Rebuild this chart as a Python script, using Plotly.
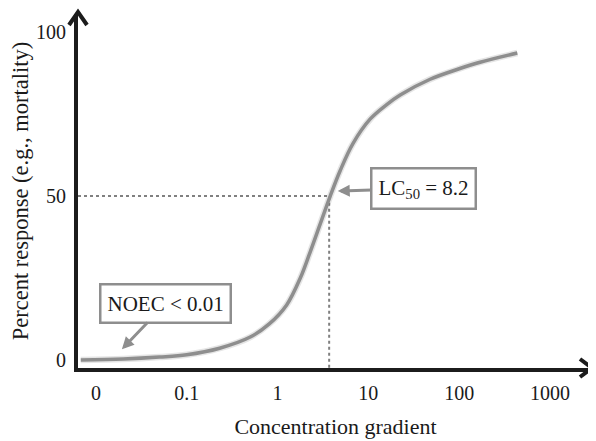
import math
import plotly.graph_objects as go

# dose-response curve (x = concentration, y = % response)
conc = [0.0068, 0.020, 0.050, 0.10, 0.23, 0.50, 0.81, 1.26, 1.78, 2.29, 2.95,
        3.80, 4.90, 6.76, 10.5, 15.8, 22.4, 47.9, 100, 170, 437]
response = [0.0, 0.3, 0.9, 1.6, 3.6, 7.0, 11.0, 16.8, 25.0, 33.0, 41.5,
            50.0, 57.8, 66.0, 73.5, 77.8, 80.8, 85.6, 88.8, 90.8, 93.6]

x_tickvals = [0.01, 0.1, 1, 10, 100, 1000]
x_ticktext = ["0", "0.1", "1", "10", "100", "1000"]
y_tickvals = [0, 50, 100]

# where the LC50 guide lines are drawn in the schematic, and the labels
lc50_mark_x = 3.7
lc50_mark_y = 50
lc50_label = "LC<sub>50</sub> = 8.2"
noec_label = "NOEC < 0.01"
noec_tip = (0.0193, 3.3)
lc50_tip = (4.6, 51.5)

X_RANGE = [-2.198, 3.474]   # log10 units
Y_RANGE = [-2.44, 105.5]

# the page body has an 8px margin, so the figure is drawn 8px in from the corner
PAGE = 8
W, H = 596 - PAGE, 441 - PAGE
L, R, T, B = 78 - PAGE, 3, 14 - PAGE, H - (368 - PAGE)

SERIF = "Liberation Serif, Times New Roman, serif"
GREY = "#8e8e8e"
AXIS = "#1c1c1c"
INK = "#1a1a1a"


def px_to_paper(px, py):
    # px, py in window pixels
    fx, fy = px - PAGE, py - PAGE
    return (fx - L) / (W - L - R), (H - B - fy) / (H - B - T)


def chevron(points):
    pts = [px_to_paper(*p) for p in points]
    return "M {} {} L {} {} L {} {}".format(*[c for p in pts for c in p])


fig = go.Figure()

# dotted guide lines to LC50
fig.add_trace(go.Scatter(
    x=[10 ** X_RANGE[0], lc50_mark_x, lc50_mark_x],
    y=[lc50_mark_y, lc50_mark_y, Y_RANGE[0]],
    mode="lines",
    line=dict(color="#808080", width=2, dash="dot"),
    hoverinfo="skip",
))

# faint shadow + main curve
fig.add_trace(go.Scatter(
    x=conc, y=response, mode="lines",
    line=dict(color="rgba(0,0,0,0.10)", width=6.5, shape="spline", smoothing=1),
    hoverinfo="skip",
))
fig.add_trace(go.Scatter(
    x=conc, y=response, mode="lines",
    line=dict(color=GREY, width=3.5, shape="spline", smoothing=1),
))

box = dict(bordercolor=GREY, borderwidth=2.5, bgcolor="white", borderpad=6,
           font=dict(family=SERIF, size=21, color=INK),
           arrowcolor=GREY, arrowwidth=3, arrowhead=2, arrowsize=0.8)

# annotation x on a log axis is given in log10 units
fig.add_annotation(x=math.log10(lc50_tip[0]), y=lc50_tip[1], xref="x", yref="y",
                   text=lc50_label, showarrow=True, ax=86, ay=-3, **box)
fig.add_annotation(x=math.log10(noec_tip[0]), y=noec_tip[1], xref="x", yref="y",
                   text=noec_label, showarrow=True, ax=44, ay=-46, **box)

# arrow heads at the ends of both axes
fig.add_shape(type="path", xref="paper", yref="paper",
              path=chevron([(69, 25), (78, 12), (87, 25)]),
              line=dict(color=AXIS, width=4))
fig.add_shape(type="path", xref="paper", yref="paper",
              path=chevron([(580, 359), (592, 368), (580, 377)]),
              line=dict(color=AXIS, width=4))

fig.update_xaxes(
    type="log", range=X_RANGE, automargin=False,
    tickvals=x_tickvals, ticktext=x_ticktext,
    showline=True, linecolor=AXIS, linewidth=4,
    showgrid=False, zeroline=False, ticks="",
    ticklabelstandoff=4,
    tickfont=dict(family=SERIF, size=20, color=INK),
    title=dict(text="Concentration gradient", standoff=17,
               font=dict(family=SERIF, size=22, color=INK)),
)
fig.update_yaxes(
    range=Y_RANGE, tickvals=y_tickvals, automargin=False,
    showline=True, linecolor=AXIS, linewidth=4,
    showgrid=False, zeroline=False, ticks="",
    ticklabelstandoff=4,
    tickfont=dict(family=SERIF, size=20, color=INK),
    title=dict(text="Percent response (e.g., mortality)", standoff=10,
               font=dict(family=SERIF, size=22.5, color=INK)),
)
fig.update_layout(
    width=W, height=H,
    margin=dict(l=L, r=R, t=T, b=B),
    plot_bgcolor="white", paper_bgcolor="white",
    showlegend=False,
)

fig.write_html("out.html")
